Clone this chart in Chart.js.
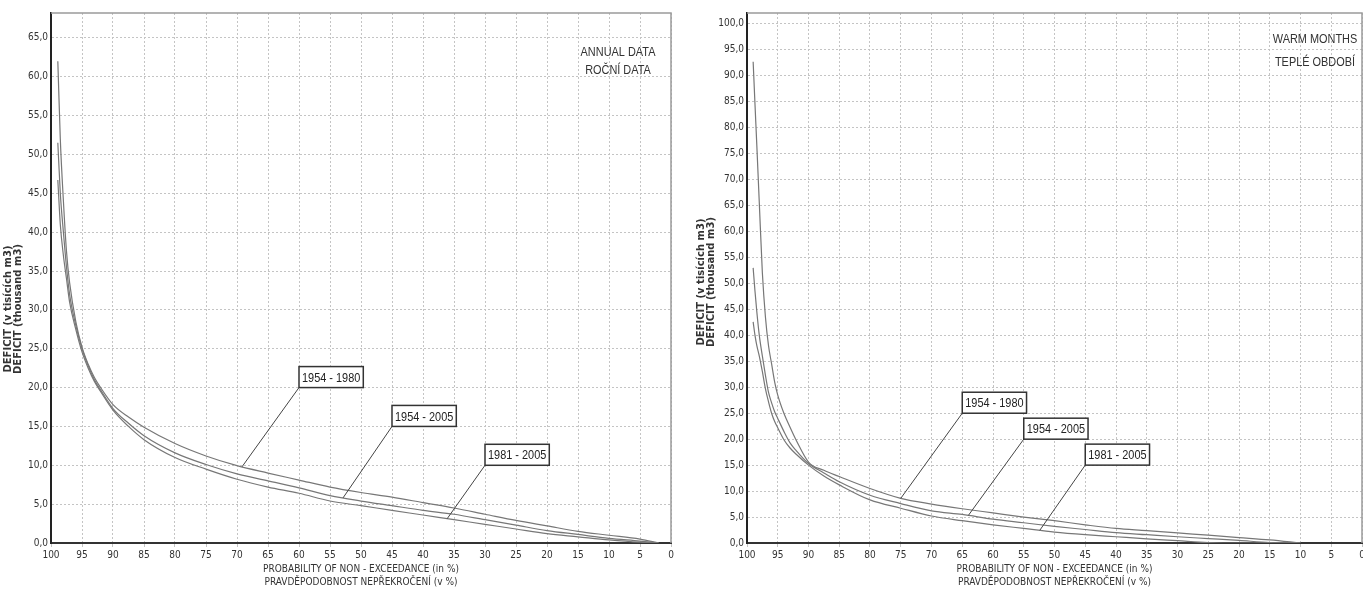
<!DOCTYPE html>
<html>
<head>
<meta charset="utf-8">
<script src="https://cdn.jsdelivr.net/npm/chart.js@4.4.1/dist/chart.umd.min.js"></script>
<style>
    html, body { margin: 0; padding: 0; background: #fff; overflow: hidden; width: 1363px; height: 592px; }
    .chart-box { position: absolute; top: 0; height: 592px; }
    #annual-box { left: 0; width: 676px; }
    #warm-box { left: 692px; width: 675px; }
</style>
</head>
<body>
<div class="chart-box" id="annual-box"><canvas id="annual-canvas"></canvas></div>
<div class="chart-box" id="warm-box"><canvas id="warm-canvas"></canvas></div>
<script>
// ========== Data
let seriesNames = ['1954 - 1980', '1954 - 2005', '1981 - 2005'];

// @ ========== Annual data (probability of non-exceedance, %)
let annualProb = [98.9, 98.5, 98, 97.5, 97, 96, 95, 94, 93, 92, 90, 87.5, 85, 80, 75, 70, 65, 60, 55, 50, 45, 40, 35, 30, 25, 20, 15, 10, 5, 2];
let annual5480 = [62, 52, 44, 37.5, 33.5, 28.5, 25.2, 23, 21.3, 20, 17.8, 16.2, 14.9, 12.8, 11.2, 9.95, 9.0, 8.1, 7.2, 6.5, 5.9, 5.2, 4.5, 3.7, 2.9, 2.2, 1.5, 1.0, 0.5, 0];
let annual5405 = [51.5, 45, 40, 35.5, 32, 28, 25, 22.8, 21, 19.7, 17.3, 15.4, 13.8, 11.6, 10.1, 8.9, 8.0, 7.1, 6.1, 5.4, 4.8, 4.2, 3.7, 3.0, 2.3, 1.6, 1.1, 0.6, 0.25, 0];
let annual8105 = [46.7, 41, 37, 34, 31, 27.5, 24.6, 22.5, 20.8, 19.5, 17.1, 15.0, 13.3, 11.0, 9.5, 8.2, 7.2, 6.4, 5.4, 4.8, 4.2, 3.6, 3.0, 2.4, 1.8, 1.2, 0.8, 0.4, 0.1, 0];

// @ ========== Warm months
let warmProb = [99, 98.7, 98.4, 98, 97.5, 97, 96.5, 96, 95.5, 95, 94, 93, 92, 90, 87.5, 85, 80, 75, 70, 65, 60, 55, 50, 45, 40, 35, 30, 25, 20, 15, 10];
let warm5480 = [92.7, 84.5, 76.5, 65.5, 52, 43.5, 38, 34.5, 31, 28.5, 25, 22.3, 19.8, 15.6, 14, 12.8, 10.5, 8.6, 7.5, 6.6, 5.8, 5.0, 4.3, 3.5, 2.8, 2.4, 1.95, 1.5, 1.05, 0.6, 0];
let warm5405 = [53, 48.5, 44.5, 40, 36, 32.3, 29, 27, 25.3, 24, 21.5, 19.3, 17.8, 15.3, 13.5, 11.8, 9.2, 7.6, 6.2, 5.5, 4.6, 3.9, 3.2, 2.6, 2.0, 1.6, 1.2, 0.85, 0.5, 0.1, 0];
let warm8105 = [42.6, 40, 38, 36, 33, 29.7, 27.2, 25, 23.4, 22.2, 19.9, 18.3, 17.1, 15.0, 12.9, 11.2, 8.3, 6.7, 5.2, 4.3, 3.5, 2.8, 2.1, 1.6, 1.2, 0.8, 0.45, 0.1, 0, 0, 0];

// ========== Styles
let tickFont = '"DejaVu Sans Condensed", "Liberation Sans", sans-serif';
let labelFont = '"Liberation Sans", Arial, sans-serif';
let titleFont = '"DejaVu Sans", sans-serif';
let curveColor = '#777';
let gridColor = '#c4c4c4';
let textColor = '#333';

let yTitleLines = ['DEFICIT (v tisících m3)', 'DEFICIT (thousand m3)'];
let xTitleLines = ['PROBABILITY OF NON - EXCEEDANCE (in %)', 'PRAVDĚPODOBNOST NEPŘEKROČENÍ (v %)'];

function toPoints(probs, values) {
    return probs.map((p, i) => ({ x: p, y: values[i] }));
}

// linear interpolation on a curve (x descending)
function valueAt(points, p) {
    for (let i = 0; i < points.length - 1; i++) {
        let a = points[i], b = points[i + 1];
        if (p <= a.x && p >= b.x) {
            return a.y + (b.y - a.y) * (a.x - p) / (a.x - b.x);
        }
    }
    return 0;
}

// narrow text: Arial squeezed like Arial Narrow
function narrowText(ctx, text, x, y, squeeze) {
    ctx.save();
    ctx.translate(x, y);
    ctx.scale(squeeze, 1);
    ctx.fillText(text, 0, 0);
    ctx.restore();
}

// ========== Plugins
let framePlugin = {
    id: 'frame',
    beforeDatasetsDraw(chart) {
        let { ctx, chartArea: a } = chart;
        ctx.save();
        ctx.strokeStyle = '#9a9a9a';
        ctx.lineWidth = 1.5;
        ctx.beginPath();
        ctx.moveTo(a.left, a.top);
        ctx.lineTo(a.right, a.top);
        ctx.lineTo(a.right, a.bottom);
        ctx.stroke();
        ctx.restore();
    }
};

let notesPlugin = {
    id: 'notes',
    afterDatasetsDraw(chart, args, opts) {
        let { ctx, chartArea: a, scales: { x, y } } = chart;
        let squeeze = 0.84;
        ctx.save();

        // callout boxes
        ctx.font = '13px ' + labelFont;
        (opts.callouts || []).forEach(c => {
            let ds = chart.data.datasets[c.series];
            let v = valueAt(ds.data, c.p);
            let ax = x.getPixelForValue(c.p), ay = y.getPixelForValue(v);
            let bx = x.getPixelForValue(c.boxP), by = y.getPixelForValue(c.boxV);
            let w = ctx.measureText(ds.label).width * squeeze + 6, h = 21;
            ctx.strokeStyle = '#444';
            ctx.lineWidth = 1;
            ctx.beginPath();
            ctx.moveTo(bx, by);
            ctx.lineTo(ax, ay);
            ctx.stroke();
            ctx.fillStyle = '#fff';
            ctx.fillRect(bx, by - h, w, h);
            ctx.strokeStyle = '#333';
            ctx.lineWidth = 1.5;
            ctx.strokeRect(bx, by - h, w, h);
            ctx.fillStyle = '#222';
            ctx.textAlign = 'left';
            ctx.textBaseline = 'middle';
            narrowText(ctx, ds.label, bx + 3, by - h / 2 + 1, squeeze);
        });

        // corner note
        if (opts.corner) {
            ctx.font = '13px ' + labelFont;
            ctx.fillStyle = textColor;
            ctx.textAlign = 'center';
            ctx.textBaseline = 'middle';
            opts.corner.lines.forEach((t, i) => {
                narrowText(ctx, t, a.right - opts.corner.dx, a.top + opts.corner.ys[i], squeeze);
            });
        }

        // y title
        if (opts.yTitle) {
            ctx.font = 'bold 10px ' + titleFont;
            ctx.fillStyle = textColor;
            ctx.textAlign = 'center';
            ctx.textBaseline = 'middle';
            yTitleLines.forEach((t, i) => {
                ctx.save();
                ctx.translate(opts.yTitle.xs[i], opts.yTitle.cy);
                ctx.rotate(-Math.PI / 2);
                ctx.fillText(t, 0, 0);
                ctx.restore();
            });
        }
        ctx.restore();
    }
};

function makeOptions(yMax, yWidth, notes) {
    return {
        responsive: true,
        maintainAspectRatio: false,
        animation: false,
        layout: { padding: { top: 13, right: 5, bottom: 0, left: 0 } },
        plugins: {
            legend: { display: false },
            tooltip: { enabled: false },
            notes: notes
        },
        elements: {
            point: { radius: 0 },
            line: { borderWidth: 1.2, borderColor: curveColor, cubicInterpolationMode: 'monotone' }
        },
        scales: {
            x: {
                type: 'linear',
                reverse: true,
                min: 0,
                max: 100,
                afterFit(scale) {
                    scale.height = 49;
                    scale.paddingLeft = 0;
                    scale.paddingRight = 0;
                },
                ticks: {
                    stepSize: 5,
                    padding: 2,
                    color: textColor,
                    font: { family: tickFont, size: 10 },
                    maxRotation: 0,
                    autoSkip: false,
                    callback: (v) => String(v)
                },
                grid: { color: gridColor, lineWidth: 1, tickLength: 4, tickColor: gridColor },
                border: { color: '#333', width: 2, dash: [2, 2] },
                title: {
                    display: true,
                    text: xTitleLines,
                    color: textColor,
                    font: { family: tickFont, size: 10, lineHeight: 1.3 },
                    padding: { top: 0, bottom: 3 }
                }
            },
            y: {
                min: 0,
                max: yMax,
                afterFit(scale) {
                    scale.width = yWidth;
                },
                ticks: {
                    stepSize: 5,
                    includeBounds: false,
                    padding: 3,
                    color: textColor,
                    font: { family: tickFont, size: 10 },
                    callback: (v) => v.toFixed(1).replace('.', ',')
                },
                grid: { color: gridColor, lineWidth: 1, drawTicks: false },
                border: { color: '#222', width: 2, dash: [2, 2] }
            }
        }
    };
}

function makeData(probs, a, b, c) {
    return {
        datasets: [a, b, c].map((vals, i) => ({
            label: seriesNames[i],
            data: toPoints(probs, vals),
            borderColor: curveColor,
            fill: false
        }))
    };
}

// ========== Annual chart
let annualCanvas = document.getElementById('annual-canvas');
let annualChart = new Chart(annualCanvas, {
    type: 'line',
    data: makeData(annualProb, annual5480, annual5405, annual8105),
    options: makeOptions(68.2, 51, {
        callouts: [
            { series: 0, p: 69.2, boxP: 60, boxV: 20 },
            { series: 1, p: 52.9, boxP: 45, boxV: 15 },
            { series: 2, p: 36.1, boxP: 30, boxV: 10 }
        ],
        corner: { lines: ['ANNUAL DATA', 'ROČNÍ DATA'], dx: 53, ys: [39, 57] },
        yTitle: { xs: [8.5, 18], cy: 309 }
    }),
    plugins: [framePlugin, notesPlugin]
});

// ========== Warm months chart
let warmCanvas = document.getElementById('warm-canvas');
let warmChart = new Chart(warmCanvas, {
    type: 'line',
    data: makeData(warmProb, warm5480, warm5405, warm8105),
    options: makeOptions(102.1, 55, {
        callouts: [
            { series: 0, p: 75, boxP: 65, boxV: 25 },
            { series: 1, p: 64, boxP: 55, boxV: 20 },
            { series: 2, p: 52.4, boxP: 45, boxV: 15 }
        ],
        corner: { lines: ['WARM MONTHS', 'TEPLÉ OBDOBÍ'], dx: 47, ys: [26, 49] },
        yTitle: { xs: [9.5, 19], cy: 282 }
    }),
    plugins: [framePlugin, notesPlugin]
});
</script>
</body>
</html>
